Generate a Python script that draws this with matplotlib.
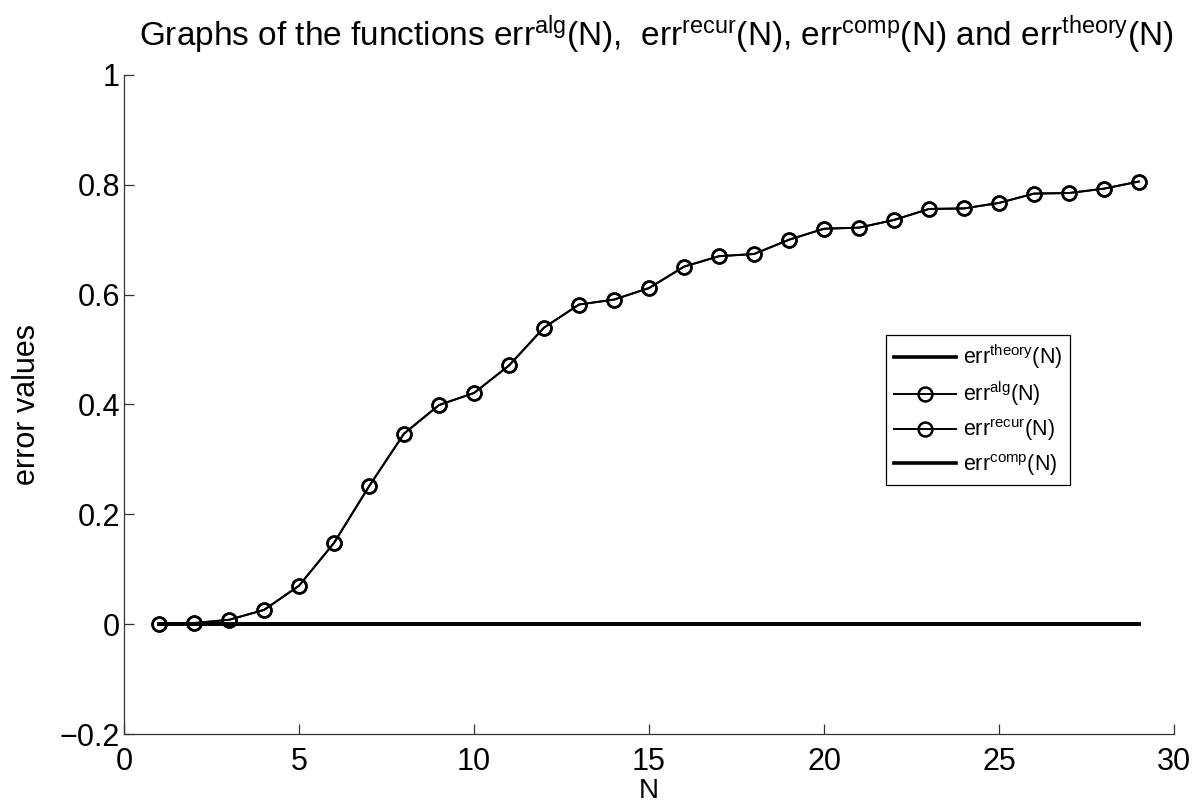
import matplotlib
matplotlib.use("Agg")
import matplotlib.pyplot as plt
import numpy as np

N = list(range(1, 30))
err_alg = [0.0, 0.002, 0.008, 0.026, 0.070, 0.148, 0.251, 0.347, 0.399, 0.421,
           0.471, 0.540, 0.582, 0.591, 0.612, 0.651, 0.670, 0.674, 0.700, 0.720,
           0.722, 0.736, 0.756, 0.757, 0.767, 0.784, 0.785, 0.793, 0.806]
err_recur = list(err_alg)
err_theory = [0.0] * len(N)
err_comp = [0.0] * len(N)

plt.rcParams['font.family'] = ['Liberation Sans', 'DejaVu Sans']
plt.rcParams['mathtext.fontset'] = 'custom'
plt.rcParams['mathtext.rm'] = 'Liberation Sans'
plt.rcParams['mathtext.it'] = 'Liberation Sans:italic'
plt.rcParams['mathtext.bf'] = 'Liberation Sans:bold'

fig = plt.figure(figsize=(12.02, 8.06), dpi=100)
ax = fig.add_axes([0.1032, 0.0893, 0.8735, 0.8177])

l1, = ax.plot(N, err_theory, color='black', lw=2.6, label=r'err$^{\mathrm{theory}}$(N)')
l2, = ax.plot(N, err_alg, color='black', lw=1.4, marker='o', markersize=10,
              markerfacecolor='none', markeredgewidth=1.8, label=r'err$^{\mathrm{alg}}$(N)')
l3, = ax.plot(N, err_recur, color='black', lw=1.4, marker='o', markersize=10,
              markerfacecolor='none', markeredgewidth=1.8, label=r'err$^{\mathrm{recur}}$(N)')
l4, = ax.plot(N, err_comp, color='black', lw=2.6, label=r'err$^{\mathrm{comp}}$(N)')

ax.set_xlim(0, 30)
ax.set_ylim(-0.2, 1.0)
ax.set_xticks([0, 5, 10, 15, 20, 25, 30])
ax.set_yticks([-0.2, 0, 0.2, 0.4, 0.6, 0.8, 1])
ax.set_yticklabels(['\u22120.2', '0', '0.2', '0.4', '0.6', '0.8', '1'])

for s in ['top', 'right']:
    ax.spines[s].set_visible(False)
for s in ['left', 'bottom']:
    ax.spines[s].set_color('#333333')
    ax.spines[s].set_linewidth(0.9)
ax.tick_params(direction='in', length=7, width=0.9, color='#333333',
               labelsize=22)
ax.tick_params(axis='x', pad=9)
ax.tick_params(axis='y', pad=3)

ax.set_xlabel('N', fontsize=20, labelpad=1)
ax.set_ylabel('error values', fontsize=22, labelpad=13)
ax.set_title(r'Graphs of the functions err$^{\mathrm{alg}}$(N),  err$^{\mathrm{recur}}$(N), '
             r'err$^{\mathrm{comp}}$(N) and err$^{\mathrm{theory}}$(N)', fontsize=24, pad=21,
             x=0.507)

leg = ax.legend(handles=[l1, l2, l3, l4], loc='upper left',
                bbox_to_anchor=(0.7257, 0.6055), fontsize=15.5, frameon=True,
                fancybox=False, edgecolor='black', framealpha=1,
                handlelength=2.9, handletextpad=0.33, borderpad=0.35,
                labelspacing=0.4, borderaxespad=0)
leg.get_frame().set_linewidth(0.9)

fig.savefig('out.png', dpi=100)
